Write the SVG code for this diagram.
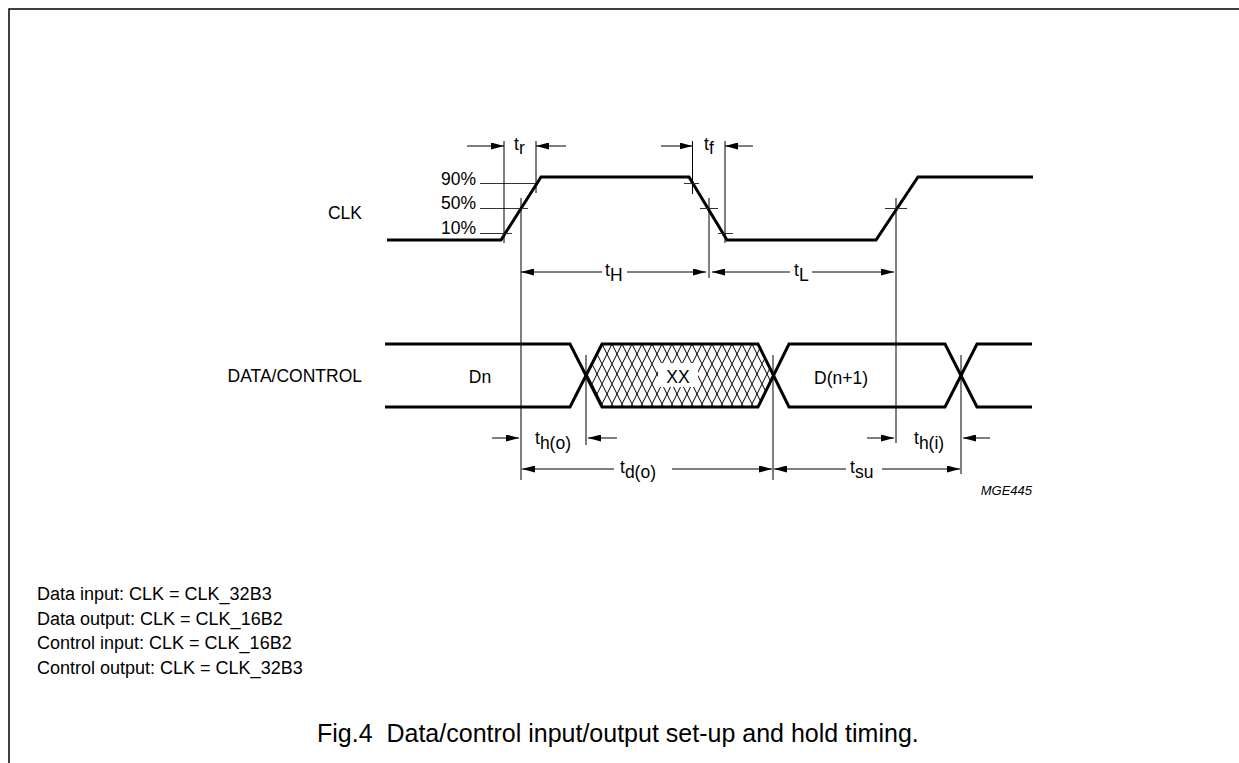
<svg xmlns="http://www.w3.org/2000/svg" width="1239" height="763" viewBox="0 0 1239 763">
<style>
text{font-family:"Liberation Sans",Arial,sans-serif;font-size:17.5px;fill:#000}
.wave{fill:none;stroke:#000;stroke-width:3;stroke-linejoin:miter}
.thin{fill:none;stroke:#000;stroke-width:1}
.lvl{fill:none;stroke:#333;stroke-width:1}
.dim{fill:none;stroke:#000;stroke-width:1;marker-end:url(#ah)}
.frame{fill:none;stroke:#000;stroke-width:1.5}
text.note{font-size:18px}
text.cap{font-size:25px}
text.code{font-size:13px;font-style:italic}
</style>
<defs>
<marker id="ah" viewBox="0 0 13 7" markerUnits="userSpaceOnUse" markerWidth="13" markerHeight="7" refX="13" refY="3.5" orient="auto">
<path d="M0,0 L13,3.5 L0,7 z" fill="#000"/>
</marker>
<pattern id="hatch" patternUnits="userSpaceOnUse" x="602" y="344" width="10" height="20">
<path d="M-1,-2 L11,22 M11,-2 L-1,22" stroke="#000" stroke-width="1" fill="none"/>
</pattern>
<clipPath id="xxclip"><polygon points="586,375.5 602,344 758,344 773.5,375.5 758,407 602,407"/></clipPath>
</defs>
<rect width="1239" height="763" fill="#fff"/>
<g id="frame"><path class="frame" d="M9,763 V9 H1239"/></g>

<g id="clk">
<text x="362" y="219" text-anchor="end">CLK</text>
<path class="wave" d="M387,240 H501 L541,177 H689 L727,240 H876 L918,177 H1033"/>
<g id="clk-levels">
<text x="476" y="185" text-anchor="end">90%</text>
<text x="476" y="209" text-anchor="end">50%</text>
<text x="476" y="234" text-anchor="end">10%</text>
<path class="lvl" d="M480,183.5 H536 M480,208.5 H528 M480,233.5 H512"/>
<path class="lvl" d="M684,183.5 H699 M700,208.5 H718 M718,233.5 H733 M885,208.5 H907"/>
</g>
</g>

<g id="data">
<text x="362" y="382" text-anchor="end">DATA/CONTROL</text>
<rect x="580" y="340" width="200" height="72" fill="url(#hatch)" clip-path="url(#xxclip)"/>
<rect x="658" y="363" width="40" height="24" fill="#fff"/>
<text x="678" y="383" text-anchor="middle">XX</text>
<text x="480" y="383" text-anchor="middle">Dn</text>
<text x="841" y="384" text-anchor="middle">D(n+1)</text>
<path class="wave" d="M385,344 H570 L602,407 H758 L789,344 H945 L977,407 H1032"/>
<path class="wave" d="M385,407 H570 L602,344 H758 L789,407 H945 L977,344 H1032"/>
</g>

<g id="connectors">
<path class="thin" d="M504,141 V243 M536,141 V193 M521,198 V480 M692.5,141 V194 M725,141 V243 M709,198 V278 M896,198 V443 M586,355 V445 M773,355 V480 M961,355 V474"/>
<line class="dim" x1="467" y1="146" x2="504" y2="146"/>
<line class="dim" x1="566" y1="146" x2="536" y2="146"/>
<line class="dim" x1="661" y1="146" x2="692.5" y2="146"/>
<line class="dim" x1="753" y1="146" x2="725" y2="146"/>
<line class="dim" x1="602" y1="272" x2="521" y2="272"/>
<line class="dim" x1="627" y1="272" x2="706" y2="272"/>
<line class="dim" x1="790" y1="272" x2="712" y2="272"/>
<line class="dim" x1="812" y1="272" x2="894" y2="272"/>
<line class="dim" x1="492" y1="438" x2="519" y2="438"/>
<line class="dim" x1="617" y1="438" x2="588" y2="438"/>
<line class="dim" x1="867" y1="438" x2="894" y2="438"/>
<line class="dim" x1="990" y1="438" x2="963" y2="438"/>
<line class="dim" x1="614" y1="469" x2="522" y2="469"/>
<line class="dim" x1="672" y1="469" x2="772" y2="469"/>
<line class="dim" x1="846" y1="469" x2="774" y2="469"/>
<line class="dim" x1="882" y1="469" x2="960" y2="469"/>
</g>

<g id="timing-labels">
<text x="514" y="150">t<tspan dy="4">r</tspan></text>
<text x="704" y="150">t<tspan dy="4">f</tspan></text>
<text x="605" y="276">t<tspan dy="5">H</tspan></text>
<text x="794" y="276">t<tspan dy="5">L</tspan></text>
<text x="535" y="444">t<tspan dy="5">h(o)</tspan></text>
<text x="914" y="444">t<tspan dy="5">h(i)</tspan></text>
<text x="620" y="473">t<tspan dy="5">d(o)</tspan></text>
<text x="850" y="473">t<tspan dy="5">su</tspan></text>
<text class="code" x="1032" y="495" text-anchor="end">MGE445</text>
</g>

<g id="notes">
<text class="note" x="37" y="600">Data input: CLK = CLK_32B3</text>
<text class="note" x="37" y="624.5">Data output: CLK = CLK_16B2</text>
<text class="note" x="37" y="649">Control input: CLK = CLK_16B2</text>
<text class="note" x="37" y="673.5">Control output: CLK = CLK_32B3</text>
</g>

<g id="caption">
<text class="cap" x="317" y="742" xml:space="preserve">Fig.4  Data/control input/output set-up and hold timing.</text>
</g>
</svg>
